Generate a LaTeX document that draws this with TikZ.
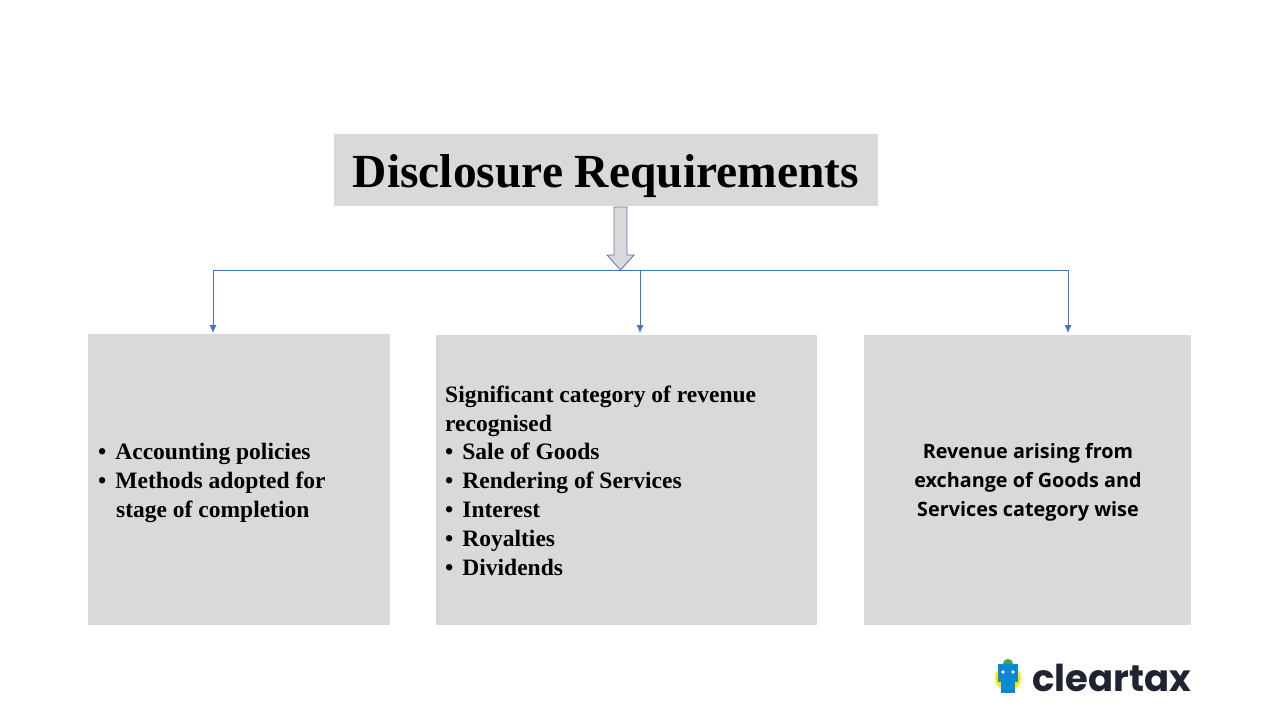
\documentclass[tikz,border=0pt]{standalone}
\usepackage{fontspec}
\setmainfont{Liberation Serif}
\newfontfamily\osans{Open Sans}
\newfontfamily\pop{Poppins}
\usetikzlibrary{arrows.meta}
\begin{document}
\begin{tikzpicture}[x=1pt,y=-1pt,
  conn/.style={draw=lineblue,line width=0.9pt,-{Latex[length=8pt,width=7pt]}},
  txt/.style={anchor=base west,inner sep=0,font=\fontsize{23.5}{23.5}\selectfont\bfseries}]
\definecolor{boxgray}{HTML}{D9D9D9}
\definecolor{lineblue}{HTML}{4472C4}
\definecolor{darkt}{HTML}{1F2430}
\useasboundingbox (0,0) rectangle (1280,720);
\fill[white] (0,0) rectangle (1280,720);
\fill[boxgray] (334,134) rectangle (878,206);
\node (title) at (606,176) {\fontsize{47.5}{47.5}\selectfont\bfseries Disclosure Requirements};
\fill[boxgray] (88,334) rectangle (390,625);
\fill[boxgray] (436,335) rectangle (817,625);
\fill[boxgray] (864,335) rectangle (1191,625);
% block arrow
\filldraw[fill=boxgray,draw=lineblue!70!gray,line width=0.8pt] (614,207) -- (627,207) -- (627,255) -- (634,255) -- (620.5,270) -- (607,255) -- (614,255) -- cycle;
\coordinate (hl) at (213,270);
\coordinate (hr) at (1068,270);
\coordinate (hm) at (640,270);
\coordinate (bl) at (213,333);
\coordinate (bm) at (640,333);
\coordinate (br) at (1068,333);
\draw[lineblue,line width=0.9pt] (hl) -- (hr);
\draw[conn] (hl) -- (bl);
\draw[conn] (hm) -- (bm);
\draw[conn] (hr) -- (br);
% left text
\node[txt] (l1) at (98,459) {•\hspace{9pt}Accounting policies};
\node[txt] (l2) at (98,488) {•\hspace{9pt}Methods adopted for};
\node[txt] (l3) at (116,517) {stage of completion};
% middle
\node[txt] (m0) at (445,402) {Significant category of revenue};
\node[txt] (m1) at (445,431) {recognised};
\foreach \t [count=\i] in {Sale of Goods,Rendering of Services,Interest,Royalties,Dividends}
  \node[txt] (mb\i) at (445,431+28.8*\i) {•\hspace{9pt}\t};
% right
\node[align=center,font=\osans\fontsize{19.8}{29}\selectfont\bfseries] (r) at (1028,482) {Revenue arising from\\exchange of Goods and\\Services category wise};
% logo
\fill[yellow!90!orange] (1008,678) circle (13);
\fill[green!60!black!80] (1008,664) circle (5);
\fill[cyan!70!blue] (998,664) rectangle (1018,682);
\fill[cyan!70!blue] (1001,682) rectangle (1015,693);
\fill[white] (1003,672) circle (1.8) (1013,672) circle (1.8);
\node[anchor=base west,inner sep=0,text=darkt,font=\pop\fontsize{37}{37}\selectfont\bfseries] (logo) at (1032,691) {cleartax};
\end{tikzpicture}
\end{document}
